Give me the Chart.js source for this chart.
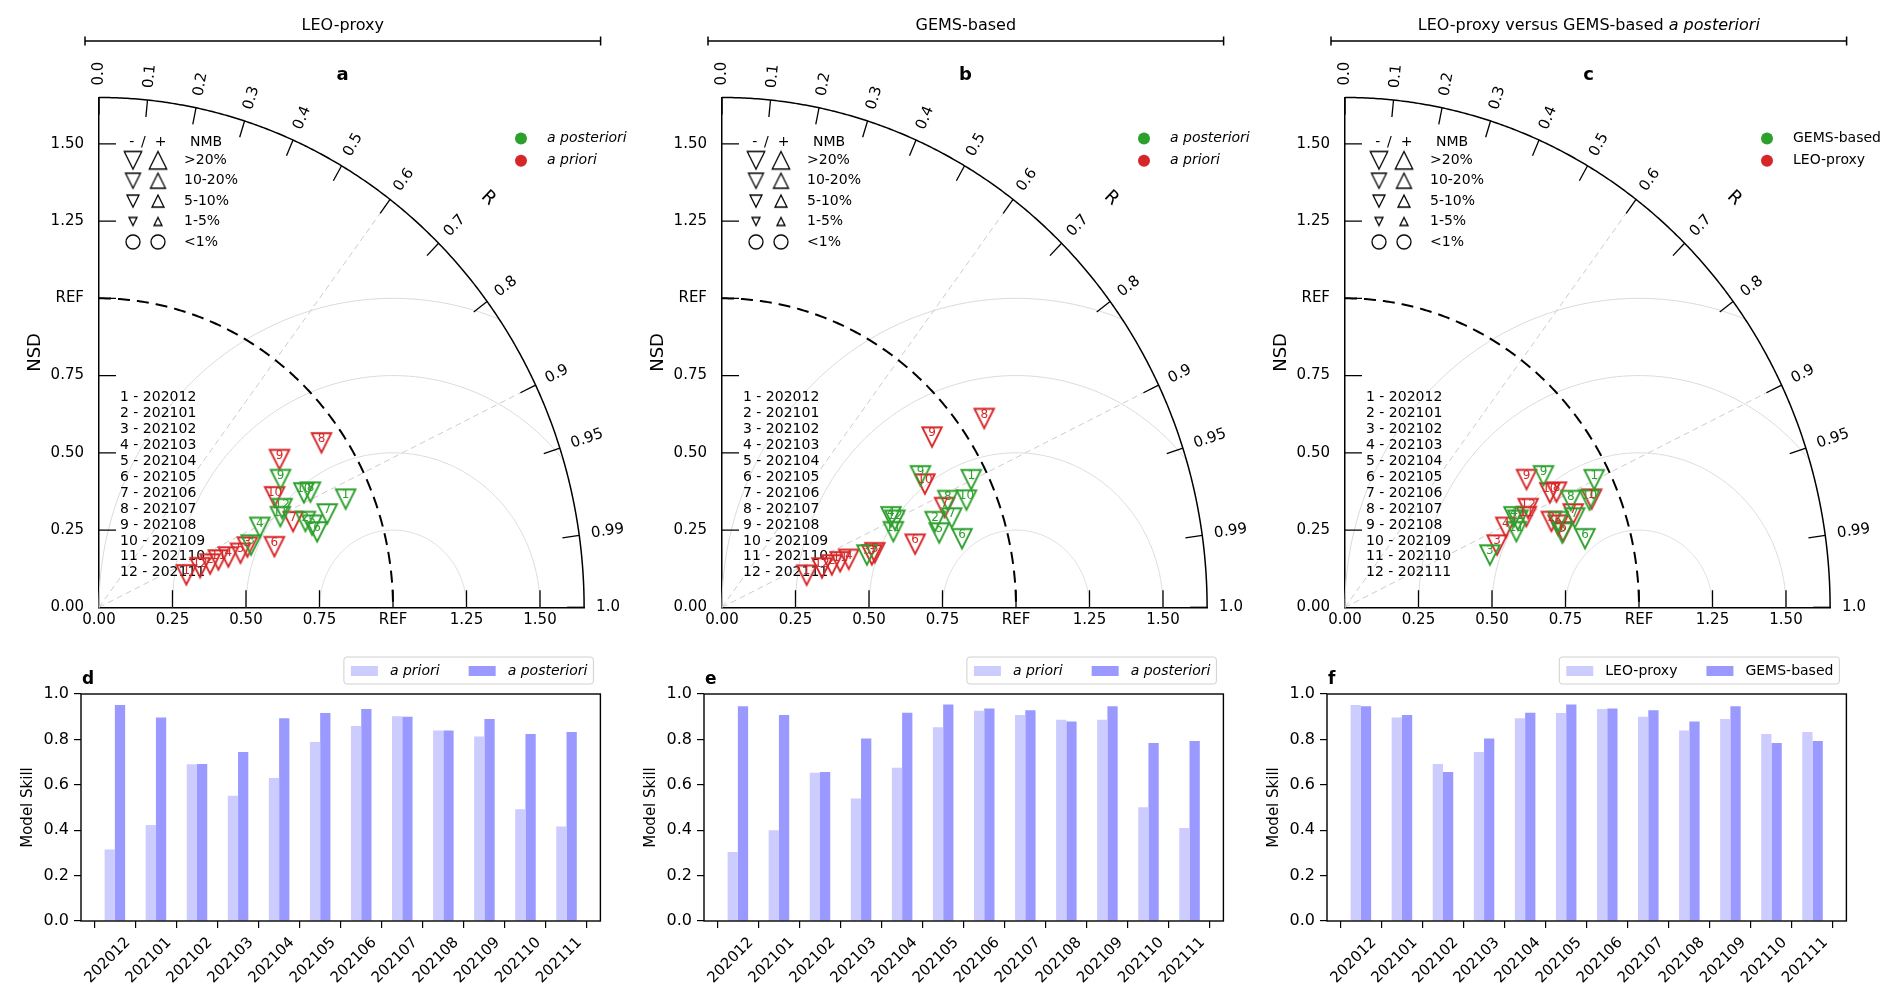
<!DOCTYPE html>
<html>
<head>
<meta charset="utf-8">
<script src="https://cdn.jsdelivr.net/npm/chart.js@4.4.1/dist/chart.umd.min.js"></script>
<style>
  html, body { margin: 0; padding: 0; background: #fff; }
  body { width: 1892px; height: 1005px; position: relative; overflow: hidden; }
  canvas { position: absolute; }
</style>
</head>
<body>
<canvas id="taylor-a" width="640" height="640" style="left:0;top:0"></canvas>
<canvas id="taylor-b" width="640" height="640" style="left:623px;top:0"></canvas>
<canvas id="taylor-c" width="640" height="640" style="left:1246px;top:0"></canvas>
<canvas id="skill-d" width="623" height="365" style="left:0;top:640px"></canvas>
<canvas id="skill-e" width="623" height="365" style="left:623px;top:640px"></canvas>
<canvas id="skill-f" width="623" height="365" style="left:1246px;top:640px"></canvas>
<script>
'use strict';

var months = ['202012', '202101', '202102', '202103', '202104', '202105',
  '202106', '202107', '202108', '202109', '202110', '202111'];

// Taylor statistics, normalised std dev and correlation per month
var nsdLeoPrior = [0.315, 0.403, 0.541, 0.469, 0.512, 0.628, 0.716, 0.925, 0.778, 0.696, 0.434, 0.367];
var corrLeoPrior = [0.943, 0.938, 0.933, 0.938, 0.940, 0.950, 0.922, 0.818, 0.789, 0.858, 0.936, 0.937];
var nsdLeoPost = [0.909, 0.755, 0.555, 0.605, 0.772, 0.781, 0.833, 0.810, 0.743, 0.789, 0.683, 0.700];
var corrLeoPost = [0.923, 0.930, 0.932, 0.904, 0.939, 0.950, 0.932, 0.888, 0.831, 0.883, 0.903, 0.890];
var nsdGemsPrior = [0.306, 0.398, 0.537, 0.458, 0.549, 0.688, 0.823, 1.081, 0.902, 0.797, 0.428, 0.363];
var corrGemsPrior = [0.941, 0.939, 0.949, 0.941, 0.947, 0.955, 0.920, 0.825, 0.792, 0.866, 0.939, 0.937];
var nsdGemsPost = [0.943, 0.776, 0.521, 0.645, 0.777, 0.846, 0.833, 0.842, 0.798, 0.901, 0.632, 0.652];
var corrGemsPost = [0.899, 0.934, 0.946, 0.891, 0.951, 0.965, 0.938, 0.912, 0.846, 0.923, 0.922, 0.902];

// NMB class: sign = under/over, 4 = >20%, 3 = 10-20%, 2 = 5-10%, 1 = 1-5%, 0 = <1%
var nmbLeoPrior = [-4, -4, -4, -4, -4, -4, -4, -4, -4, -4, -4, -4];
var nmbLeoPost = [-4, -4, -4, -4, -4, -4, -4, -4, -4, -4, -4, -4];
var nmbGemsPrior = [-4, -4, -4, -4, -4, -4, -4, -4, -4, -4, -4, -4];
var nmbGemsPost = [-4, -4, -4, -4, -4, -4, -4, -4, -4, -4, -4, -4];

// model skill bars
var skillLeoPrior = [0.315, 0.423, 0.691, 0.552, 0.630, 0.789, 0.859, 0.902, 0.839, 0.813, 0.492, 0.416];
var skillLeoPost = [0.952, 0.897, 0.692, 0.745, 0.893, 0.916, 0.934, 0.900, 0.839, 0.890, 0.824, 0.833];
var skillGemsPrior = [0.304, 0.400, 0.653, 0.540, 0.675, 0.853, 0.926, 0.907, 0.887, 0.887, 0.501, 0.410];
var skillGemsPost = [0.946, 0.907, 0.656, 0.804, 0.917, 0.954, 0.936, 0.928, 0.879, 0.946, 0.784, 0.793];

var stdTicks = [0, 0.25, 0.5, 0.75, 1.0, 1.25, 1.5];
var corrTicks = [0, 0.1, 0.2, 0.3, 0.4, 0.5, 0.6, 0.7, 0.8, 0.9, 0.95, 0.99, 1.0];
var corrTickLabels = ['0.0', '0.1', '0.2', '0.3', '0.4', '0.5', '0.6', '0.7', '0.8', '0.9', '0.95', '0.99', '1.0'];
var rmsRadii = [0.25, 0.5, 0.75, 1.0];
var guideCorr = [0.6, 0.9];
var skillTicks = [0, 0.2, 0.4, 0.6, 0.8, 1.0];
var nmbClasses = [4, 3, 2, 1, 0];
var nmbClassLabels = ['>20%', '10-20%', '5-10%', '1-5%', '<1%'];

var GREEN = '#2ca02c';
var RED = '#d62728';
var FONT = "'DejaVu Sans', sans-serif";
var R_MAX = 1.65;
var markerSize = { 4: 19.5, 3: 16, 2: 12.5, 1: 8.5, 0: 14 };
var keySize = { 4: 17.5, 3: 15, 2: 12, 1: 8, 0: 14 };

Chart.defaults.font.family = FONT;
Chart.defaults.color = '#000';

function markerImage(color, cls, sizes, lw) {
  var size = (sizes || markerSize)[Math.abs(cls)];
  var c = document.createElement('canvas');
  var w = Math.ceil(size + 6);
  c.width = w;
  c.height = w;
  var g = c.getContext('2d');
  var m = w / 2, h = size / 2;
  g.strokeStyle = color;
  g.lineWidth = lw || 1.9;
  g.lineJoin = 'miter';
  g.beginPath();
  if (cls === 0) {
    g.arc(m, m, h, 0, Math.PI * 2);
  } else if (cls < 0) {
    g.moveTo(m - h, m - h); g.lineTo(m + h, m - h); g.lineTo(m, m + h); g.closePath();
  } else {
    g.moveTo(m - h, m + h); g.lineTo(m + h, m + h); g.lineTo(m, m - h); g.closePath();
  }
  g.stroke();
  return c;
}

function taylorPoints(nsd, corr) {
  return nsd.map(function (s, i) {
    var r = corr[i];
    return { x: s * r, y: s * Math.sqrt(1 - r * r) };
  });
}

function textAt(ctx, txt, x, y, font, align, color) {
  ctx.font = font;
  ctx.textAlign = align || 'left';
  ctx.textBaseline = 'middle';
  ctx.fillStyle = color || '#000';
  ctx.fillText(txt, x, y);
}

var taylorDecor = {
  id: 'taylorDecor',
  beforeDatasetsDraw: function (chart) {
    var ctx = chart.ctx, sx = chart.scales.x, sy = chart.scales.y, ca = chart.chartArea;
    function P(x, y) { return [sx.getPixelForValue(x), sy.getPixelForValue(y)]; }
    var k, p;
    ctx.save();

    ctx.strokeStyle = '#d9d9d9';
    ctx.lineWidth = 1;
    rmsRadii.forEach(function (rho) {
      ctx.beginPath();
      var pen = false;
      for (var i = 0; i <= 400; i++) {
        var phi = Math.PI * i / 400;
        var x = 1 + rho * Math.cos(phi), y = rho * Math.sin(phi);
        if (x >= 0 && x * x + y * y <= R_MAX * R_MAX) {
          var q = P(x, y);
          if (pen) ctx.lineTo(q[0], q[1]); else ctx.moveTo(q[0], q[1]);
          pen = true;
        } else {
          pen = false;
        }
      }
      ctx.stroke();
    });

    ctx.strokeStyle = '#cccccc';
    ctx.setLineDash([6, 4]);
    guideCorr.forEach(function (r) {
      var o = P(0, 0), e = P(R_MAX * r, R_MAX * Math.sqrt(1 - r * r));
      ctx.beginPath();
      ctx.moveTo(o[0], o[1]);
      ctx.lineTo(e[0], e[1]);
      ctx.stroke();
    });

    // reference std arc
    ctx.strokeStyle = '#000';
    ctx.lineWidth = 2;
    ctx.setLineDash([12, 7]);
    ctx.beginPath();
    for (k = 0; k <= 200; k++) {
      var t = Math.PI / 2 * (1 - k / 200);
      p = P(Math.cos(t), Math.sin(t));
      if (k) ctx.lineTo(p[0], p[1]); else ctx.moveTo(p[0], p[1]);
    }
    ctx.stroke();
    ctx.setLineDash([]);

    // month key
    var f = '14px ' + FONT;
    months.forEach(function (m, i) {
      textAt(ctx, (i + 1) + ' - ' + m, ca.left + 21, ca.top + 300.3 + i * 15.9, f);
    });
    ctx.restore();
  },
  afterDraw: function (chart, args, opts) {
    var ctx = chart.ctx, sx = chart.scales.x, sy = chart.scales.y, ca = chart.chartArea;
    function P(x, y) { return [sx.getPixelForValue(x), sy.getPixelForValue(y)]; }
    var o = P(0, 0), k, p;
    ctx.save();
    ctx.strokeStyle = '#000';
    ctx.lineWidth = 1.3;

    // inward axis ticks
    stdTicks.forEach(function (v) {
      if (!v) return;
      var py = sy.getPixelForValue(v), px = sx.getPixelForValue(v);
      ctx.beginPath();
      ctx.moveTo(o[0], py); ctx.lineTo(o[0] + 17, py);
      ctx.moveTo(px, o[1]); ctx.lineTo(px, o[1] - 17);
      ctx.stroke();
    });

    // outer correlation arc
    ctx.lineWidth = 1.5;
    ctx.beginPath();
    for (k = 0; k <= 300; k++) {
      var t = Math.PI / 2 * k / 300;
      p = P(R_MAX * Math.cos(t), R_MAX * Math.sin(t));
      if (k) ctx.lineTo(p[0], p[1]); else ctx.moveTo(p[0], p[1]);
    }
    ctx.stroke();

    ctx.lineWidth = 1.3;
    corrTicks.forEach(function (r, i) {
      var th = Math.acos(r);
      var e = P(R_MAX * Math.cos(th), R_MAX * Math.sin(th));
      var dx = e[0] - o[0], dy = e[1] - o[1], len = Math.sqrt(dx * dx + dy * dy);
      var ux = dx / len, uy = dy / len;
      ctx.beginPath();
      ctx.moveTo(e[0], e[1]);
      ctx.lineTo(e[0] - 17 * ux, e[1] - 17 * uy);
      ctx.stroke();
      var ang = Math.atan2(-dy, dx);
      ctx.save();
      ctx.translate(e[0] + 12 * ux, e[1] + 12 * uy);
      ctx.rotate(-ang);
      textAt(ctx, corrTickLabels[i], 0, 0, '15px ' + FONT, 'left');
      ctx.restore();
    });

    // R axis title
    var e45 = P(R_MAX * Math.SQRT1_2, R_MAX * Math.SQRT1_2);
    var ddx = e45[0] - o[0], ddy = e45[1] - o[1], dl = Math.sqrt(ddx * ddx + ddy * ddy);
    var a45 = Math.atan2(-ddy, ddx);
    ctx.save();
    ctx.translate(e45[0] + 67 * ddx / dl, e45[1] + 67 * ddy / dl);
    ctx.rotate(Math.PI / 2 - a45);
    textAt(ctx, 'R', 0, 0, '18px ' + FONT, 'center');
    ctx.restore();

    // panel title with bracket
    var cx = ca.left + 243.8;
    var ty = ca.top - 71.5;
    ctx.font = '16px ' + FONT;
    var w1 = ctx.measureText(opts.title).width;
    var w2 = 0;
    if (opts.titleItalic) {
      ctx.font = 'italic 16px ' + FONT;
      w2 = ctx.measureText(opts.titleItalic).width;
    }
    var tx = cx - (w1 + w2) / 2;
    textAt(ctx, opts.title, tx, ty, '16px ' + FONT, 'left');
    if (opts.titleItalic) textAt(ctx, opts.titleItalic, tx + w1, ty, 'italic 16px ' + FONT, 'left');
    var by = ca.top - 56.5, bl = ca.left - 14, br = ca.left + 501.6;
    ctx.lineWidth = 1.5;
    ctx.beginPath();
    ctx.moveTo(bl, by); ctx.lineTo(br, by);
    ctx.moveTo(bl, by - 4.5); ctx.lineTo(bl, by + 4.5);
    ctx.moveTo(br, by - 4.5); ctx.lineTo(br, by + 4.5);
    ctx.stroke();
    textAt(ctx, opts.letter, ca.left + 243.5, ca.top - 22, 'bold 18px ' + FONT, 'center');

    // NMB key
    var lf = '14px ' + FONT;
    var hy = ca.top + 44.5;
    textAt(ctx, '-', ca.left + 32.7, hy, lf, 'center');
    textAt(ctx, '/', ca.left + 44.3, hy, lf, 'center');
    textAt(ctx, '+', ca.left + 61.7, hy, lf, 'center');
    textAt(ctx, 'NMB', ca.left + 91, hy, lf, 'left');
    nmbClasses.forEach(function (c, i) {
      var y = ca.top + 62.8 + i * 20.4;
      var down = markerImage('#000', c === 0 ? 0 : -c, keySize, 1.3);
      var up = markerImage('#000', c, keySize, 1.3);
      ctx.drawImage(down, ca.left + 34 - down.width / 2, y - down.height / 2);
      ctx.drawImage(up, ca.left + 59 - up.width / 2, y - up.height / 2);
      textAt(ctx, nmbClassLabels[i], ca.left + 85, y, lf, 'left');
    });

    // series key
    chart.data.datasets.forEach(function (ds, i) {
      var y = ca.top + 41 + i * 22.2;
      ctx.fillStyle = ds.borderColor;
      ctx.beginPath();
      ctx.arc(ca.left + 422, y, 6, 0, Math.PI * 2);
      ctx.fill();
      textAt(ctx, ds.label, ca.left + 448, y, (opts.legendItalic ? 'italic ' : '') + '14px ' + FONT, 'left');
    });
    ctx.restore();
  }
};

var pointNumbers = {
  id: 'pointNumbers',
  afterDatasetsDraw: function (chart) {
    var ctx = chart.ctx;
    ctx.save();
    chart.data.datasets.forEach(function (ds, di) {
      var meta = chart.getDatasetMeta(di);
      meta.data.forEach(function (pt, i) {
        textAt(ctx, String(i + 1), pt.x, pt.y - 4, '12px ' + FONT, 'center', ds.borderColor);
      });
    });
    ctx.restore();
  }
};

function taylorSet(label, color, nsd, corr, nmb) {
  return {
    label: label,
    data: taylorPoints(nsd, corr),
    borderColor: color,
    backgroundColor: color,
    pointStyle: nmb.map(function (c) { return markerImage(color, c); }),
    pointRadius: 10,
    showLine: false
  };
}

function taylorChart(id, sets, opts) {
  return new Chart(document.getElementById(id), {
    type: 'scatter',
    data: { datasets: sets },
    options: {
      responsive: false,
      animation: false,
      events: [],
      layout: { padding: { left: 0, top: 97.5, right: 55.9, bottom: 0 } },
      plugins: { legend: { display: false }, tooltip: { enabled: false }, taylorDecor: opts },
      scales: {
        x: {
          type: 'linear', min: 0, max: R_MAX,
          afterFit: function (s) { s.height = 32.7; },
          afterBuildTicks: function (s) { s.ticks = stdTicks.map(function (v) { return { value: v }; }); },
          ticks: {
            padding: 4, maxRotation: 0, autoSkip: false, font: { size: 15 },
            callback: function (v) { return v === 1 ? 'REF' : v.toFixed(2); }
          },
          grid: { display: false, drawTicks: false },
          border: { display: true, color: '#000', width: 1.5 }
        },
        y: {
          type: 'linear', min: 0, max: R_MAX,
          afterFit: function (s) { s.width = 99; },
          afterBuildTicks: function (s) { s.ticks = stdTicks.map(function (v) { return { value: v }; }); },
          ticks: {
            padding: 15, autoSkip: false, font: { size: 15 },
            callback: function (v) { return v === 1 ? 'REF' : v.toFixed(2); }
          },
          grid: { display: false, drawTicks: false },
          border: { display: true, color: '#000', width: 1.5 },
          title: { display: true, text: 'NSD', font: { size: 18 }, padding: { top: 25, bottom: 0 } }
        }
      }
    },
    plugins: [taylorDecor, pointNumbers]
  });
}

taylorChart('taylor-a', [
  taylorSet('a posteriori', GREEN, nsdLeoPost, corrLeoPost, nmbLeoPost),
  taylorSet('a priori', RED, nsdLeoPrior, corrLeoPrior, nmbLeoPrior)
], { title: 'LEO-proxy', letter: 'a', legendItalic: true });

taylorChart('taylor-b', [
  taylorSet('a posteriori', GREEN, nsdGemsPost, corrGemsPost, nmbGemsPost),
  taylorSet('a priori', RED, nsdGemsPrior, corrGemsPrior, nmbGemsPrior)
], { title: 'GEMS-based', letter: 'b', legendItalic: true });

taylorChart('taylor-c', [
  taylorSet('GEMS-based', GREEN, nsdGemsPost, corrGemsPost, nmbGemsPost),
  taylorSet('LEO-proxy', RED, nsdLeoPost, corrLeoPost, nmbLeoPost)
], { title: 'LEO-proxy versus GEMS-based ', titleItalic: 'a posteriori', letter: 'c', legendItalic: false });

function roundBox(ctx, x, y, w, h, r) {
  ctx.beginPath();
  ctx.moveTo(x + r, y);
  ctx.lineTo(x + w - r, y); ctx.quadraticCurveTo(x + w, y, x + w, y + r);
  ctx.lineTo(x + w, y + h - r); ctx.quadraticCurveTo(x + w, y + h, x + w - r, y + h);
  ctx.lineTo(x + r, y + h); ctx.quadraticCurveTo(x, y + h, x, y + h - r);
  ctx.lineTo(x, y + r); ctx.quadraticCurveTo(x, y, x + r, y);
  ctx.closePath();
}

var skillFrame = {
  id: 'skillFrame',
  afterDraw: function (chart, args, opts) {
    var ctx = chart.ctx, ca = chart.chartArea;
    ctx.save();
    ctx.strokeStyle = '#000';
    ctx.lineWidth = 1.4;
    ctx.strokeRect(ca.left, ca.top, ca.right - ca.left, ca.bottom - ca.top);

    ctx.font = 'bold 17px ' + FONT;
    ctx.textAlign = 'left';
    ctx.textBaseline = 'alphabetic';
    ctx.fillStyle = '#000';
    ctx.fillText(opts.letter, ca.left + 1, ca.top - 10);

    var font = (opts.italic ? 'italic ' : '') + '14px ' + FONT;
    ctx.font = font;
    var sets = chart.data.datasets;
    var widths = sets.map(function (ds) { return ctx.measureText(ds.label).width; });
    var total = 7 + 6 - 29;
    widths.forEach(function (w) { total += 27 + 12 + w + 29; });
    var right = ca.right - 7, left = right - total, top = ca.top - 37;
    roundBox(ctx, left, top, total, 27, 3);
    ctx.fillStyle = 'rgba(255,255,255,0.85)';
    ctx.fill();
    ctx.strokeStyle = '#d0d0d0';
    ctx.lineWidth = 1;
    ctx.stroke();
    var x = left + 7;
    sets.forEach(function (ds, i) {
      ctx.fillStyle = ds.backgroundColor;
      ctx.fillRect(x, top + 9, 27, 10);
      textAt(ctx, ds.label, x + 39, top + 14, font, 'left');
      x += 27 + 12 + widths[i] + 29;
    });
    ctx.restore();
  }
};

function skillChart(id, letter, names, italic, priorVals, postVals) {
  return new Chart(document.getElementById(id), {
    type: 'bar',
    data: {
      datasets: [
        { label: names[0], data: priorVals.map(function (v, i) { return { x: i, y: v }; }), backgroundColor: '#ccccff', borderWidth: 0 },
        { label: names[1], data: postVals.map(function (v, i) { return { x: i, y: v }; }), backgroundColor: '#9999ff', borderWidth: 0 }
      ]
    },
    options: {
      responsive: false,
      animation: false,
      events: [],
      layout: { padding: { left: 0, top: 54, right: 22.6, bottom: 0 } },
      datasets: { bar: { categoryPercentage: 0.5, barPercentage: 1.0 } },
      plugins: { legend: { display: false }, tooltip: { enabled: false }, skillFrame: { letter: letter, italic: italic } },
      scales: {
        x: {
          type: 'linear', min: -0.825, max: 11.825, offset: false,
          afterFit: function (s) { s.height = 84; },
          afterBuildTicks: function (s) { s.ticks = months.map(function (m, i) { return { value: i }; }); },
          ticks: {
            autoSkip: false, minRotation: 45, maxRotation: 45, labelOffset: 13, padding: 6,
            font: { size: 15 },
            callback: function (v) { return months[v]; }
          },
          grid: { display: true, drawOnChartArea: false, drawTicks: true, tickLength: 7, color: '#000', lineWidth: 1.2 },
          border: { display: false }
        },
        y: {
          min: 0, max: 1,
          afterFit: function (s) { s.width = 81; },
          afterBuildTicks: function (s) { s.ticks = skillTicks.map(function (v) { return { value: v }; }); },
          ticks: {
            padding: 5, font: { size: 16 },
            callback: function (v) { return v.toFixed(1); }
          },
          grid: { display: true, drawOnChartArea: false, drawTicks: true, tickLength: 7, color: '#000', lineWidth: 1.2 },
          border: { display: false },
          title: { display: true, text: 'Model Skill', font: { size: 15 }, padding: { top: 19, bottom: 0 } }
        }
      }
    },
    plugins: [skillFrame]
  });
}

skillChart('skill-d', 'd', ['a priori', 'a posteriori'], true, skillLeoPrior, skillLeoPost);
skillChart('skill-e', 'e', ['a priori', 'a posteriori'], true, skillGemsPrior, skillGemsPost);
skillChart('skill-f', 'f', ['LEO-proxy', 'GEMS-based'], false, skillLeoPost, skillGemsPost);
</script>
</body>
</html>
